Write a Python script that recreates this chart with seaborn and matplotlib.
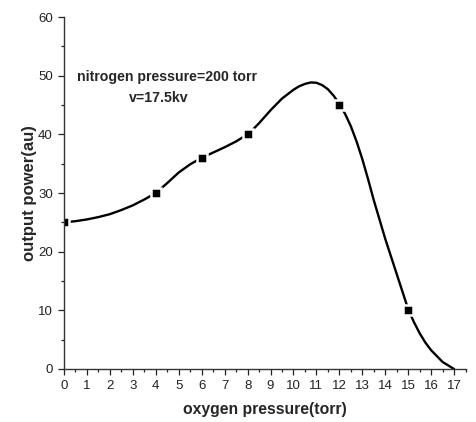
import numpy as np
import pandas as pd
import seaborn as sns
import matplotlib.pyplot as plt
from matplotlib.ticker import MultipleLocator

# measured points (markers)
oxygen = [0, 4, 6, 8, 12, 15]
power = [25, 30, 36, 40, 45, 10]

# smooth curve
curve_x = [0, 0.5, 1, 1.5, 2, 2.5, 3, 3.5, 4, 4.5, 5, 5.5, 6, 6.5, 7, 7.5, 8,
           8.25, 8.5, 8.75, 9, 9.5, 10, 10.25, 10.5, 10.75, 11, 11.25, 11.5, 11.75, 12,
           12.25, 12.5, 12.75, 13, 13.25, 13.5, 14, 14.5, 15, 15.25, 15.5, 15.75, 16, 16.5, 17]
curve_y = [25.0, 25.2, 25.5, 25.9, 26.4, 27.1, 27.9, 28.9, 30.0, 31.7, 33.5, 34.9, 36.0, 36.9, 37.8, 38.8, 40.0,
           40.9, 41.9, 43.0, 44.1, 46.1, 47.6, 48.2, 48.6, 48.85, 48.8, 48.4, 47.7, 46.6, 45.2,
           43.5, 41.4, 38.8, 35.8, 32.4, 28.8, 22.2, 16.2, 10.2, 8.0, 6.1, 4.5, 3.2, 1.2, 0.0]

sns.set_style("ticks")
plt.rcParams['font.family'] = ['Liberation Sans', 'DejaVu Sans']

fig = plt.figure(figsize=(4.76, 4.22), dpi=100)
ax = fig.add_axes([0.1345, 0.1256, 0.8435, 0.834])

pts = pd.DataFrame({"x": oxygen, "y": power})
crv = pd.DataFrame({"x": curve_x, "y": curve_y})

sns.lineplot(data=crv, x="x", y="y", ax=ax, color="black", linewidth=1.7, sort=False)
ax.plot(pts.x, pts.y, linestyle="none", marker="s", markersize=6.5,
        markerfacecolor="black", markeredgecolor="white", markeredgewidth=1.8, zorder=3)

ax.set_xlim(0, 17.5)
ax.set_ylim(0, 60)
ax.xaxis.set_major_locator(MultipleLocator(1))
ax.xaxis.set_minor_locator(MultipleLocator(0.5))
ax.yaxis.set_major_locator(MultipleLocator(10))
ax.yaxis.set_minor_locator(MultipleLocator(5))
ax.tick_params(which="major", length=4, width=0.9, labelsize=9.5, colors="#222222", pad=4)
ax.tick_params(which="minor", length=2.5, width=0.9, colors="#222222")

for s in ["top", "right"]:
    ax.spines[s].set_visible(False)
for s in ["left", "bottom"]:
    ax.spines[s].set_linewidth(1.0)
    ax.spines[s].set_color("#333333")
    ax.spines[s].set_zorder(4)

ax.set_xlabel("oxygen pressure(torr)", fontsize=11.3, fontweight="bold", labelpad=7)
ax.set_ylabel("output power(au)", fontsize=12, fontweight="bold", labelpad=1)

ax.text(4.47, 49.8, "nitrogen pressure=200 torr", ha="center", va="center",
        fontsize=10.2, fontweight="bold")
ax.text(4.14, 46.2, "v=17.5kv", ha="center", va="center",
        fontsize=10.2, fontweight="bold")

plt.savefig("out.png", dpi=100)
